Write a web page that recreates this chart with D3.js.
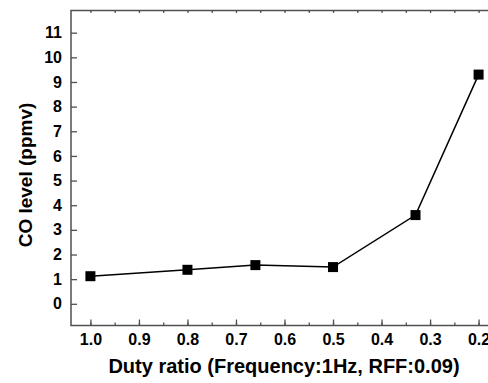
<!DOCTYPE html>
<html lang="en">
<head>
    <meta charset="UTF-8">
    <title>CO level vs Duty ratio</title>
    <script src="https://d3js.org/d3.v7.min.js"></script>
    <style>
        body { margin: 0; background: #fff; }
        svg { display: block; font-family: "Liberation Sans", Arial, sans-serif; }
        .tick-label { font-size: 16px; font-weight: bold; fill: #000; }
        .axis-title { font-size: 20px; font-weight: bold; fill: #000; }
    </style>
</head>
<body>
    <svg width="488" height="383"></svg>

    <script>
        // data
        const dutyRatio = [1.0, 0.8, 0.66, 0.5, 0.33, 0.2];
        const coLevel = [1.12, 1.38, 1.57, 1.49, 3.6, 9.3];
        const xTicks = [1.0, 0.9, 0.8, 0.7, 0.6, 0.5, 0.4, 0.3, 0.2];
        const yTicks = [0, 1, 2, 3, 4, 5, 6, 7, 8, 9, 10, 11];

        const svg = d3.select("svg");
        const plotLeft = 71, plotRight = 498, plotTop = 10.5, plotBottom = 325.5;
        const frameColor = "#505050";

        const x = d3.scaleLinear()
            .domain([1.04, 0.16])
            .range([plotLeft, plotRight]);

        const y = d3.scaleLinear()
            .domain([-0.88, 11.9])
            .range([plotBottom, plotTop]);

        // frame
        svg.append("rect")
            .attr("x", plotLeft)
            .attr("y", plotTop)
            .attr("width", plotRight - plotLeft)
            .attr("height", plotBottom - plotTop)
            .attr("fill", "none")
            .attr("stroke", frameColor)
            .attr("stroke-width", 1.5);

        const minorX = d3.range(0.15, 1.05, 0.05).map(v => +v.toFixed(2))
            .filter(v => v <= 1.04 && v >= 0.16);

        // bottom axis (ticks inside)
        const xAxis = svg.append("g")
            .attr("transform", `translate(0,${plotBottom})`)
            .call(d3.axisBottom(x).tickValues(xTicks).tickSize(-6).tickFormat(d3.format(".1f")).tickPadding(8.5));
        xAxis.select(".domain").remove();
        xAxis.selectAll(".tick line").attr("stroke", frameColor).attr("stroke-width", 1.3);
        xAxis.selectAll(".tick text").attr("class", "tick-label");
        xAxis.attr("font-family", null).attr("font-size", null);

        svg.append("g")
            .attr("transform", `translate(0,${plotBottom})`)
            .call(d3.axisBottom(x).tickValues(minorX).tickSize(-3).tickFormat(""))
            .call(g => g.select(".domain").remove())
            .selectAll(".tick line").attr("stroke", frameColor).attr("stroke-width", 1.3);

        // top axis, short ticks
        svg.append("g")
            .attr("transform", `translate(0,${plotTop})`)
            .call(d3.axisTop(x).tickValues(minorX).tickSize(-2.5).tickFormat(""))
            .call(g => g.select(".domain").remove())
            .selectAll(".tick line").attr("stroke", frameColor).attr("stroke-width", 1.3);

        // left axis
        const yAxis = svg.append("g")
            .attr("transform", `translate(${plotLeft},0)`)
            .call(d3.axisLeft(y).tickValues(yTicks).tickSize(-6).tickPadding(9));
        yAxis.select(".domain").remove();
        yAxis.selectAll(".tick line").attr("stroke", frameColor).attr("stroke-width", 1.3);
        yAxis.selectAll(".tick text").attr("class", "tick-label");
        yAxis.attr("font-family", null).attr("font-size", null);

        // line + markers
        const points = dutyRatio.map((d, i) => ({ d: d, v: coLevel[i] }));

        svg.append("path")
            .datum(points)
            .attr("fill", "none")
            .attr("stroke", "#000")
            .attr("stroke-width", 1.5)
            .attr("d", d3.line().x(p => x(p.d)).y(p => y(p.v)));

        const size = 10;
        svg.selectAll(".marker")
            .data(points)
            .enter().append("rect")
            .attr("class", "marker")
            .attr("x", p => x(p.d) - size / 2)
            .attr("y", p => y(p.v) - size / 2)
            .attr("width", size)
            .attr("height", size)
            .attr("fill", "#000");

        // axis titles
        svg.append("text")
            .attr("class", "axis-title")
            .attr("x", 284)
            .attr("y", 373)
            .attr("text-anchor", "middle")
            .text("Duty ratio (Frequency:1Hz, RFF:0.09)");

        svg.append("text")
            .attr("class", "axis-title")
            .attr("transform", "rotate(-90)")
            .attr("x", -175)
            .attr("y", 32)
            .attr("text-anchor", "middle")
            .style("font-size", "19px")
            .text("CO level (ppmv)");
    </script>
</body>
</html>
